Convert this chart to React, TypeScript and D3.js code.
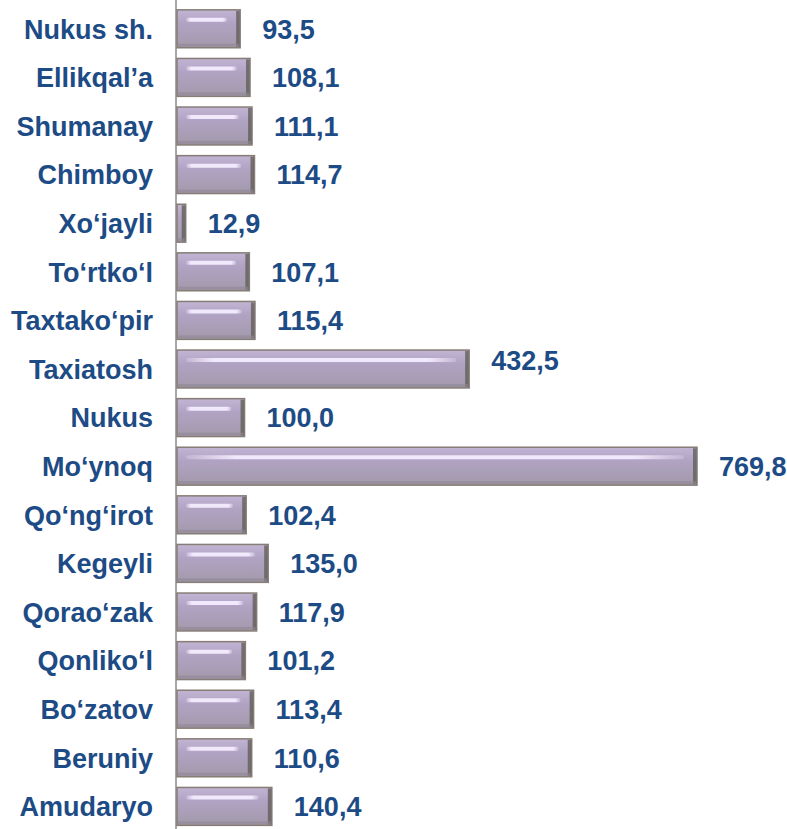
import React from 'react';
import * as d3 from 'd3';

const districts = [
  'Nukus sh.', 'Ellikqal’a', 'Shumanay', 'Chimboy', 'Xo‘jayli', 'To‘rtko‘l',
  'Taxtako‘pir', 'Taxiatosh', 'Nukus', 'Mo‘ynoq', 'Qo‘ng‘irot', 'Kegeyli',
  'Qorao‘zak', 'Qonliko‘l', 'Bo‘zatov', 'Beruniy', 'Amudaryo',
];
const values = [
  93.5, 108.1, 111.1, 114.7, 12.9, 107.1, 115.4, 432.5, 100.0, 769.8,
  102.4, 135.0, 117.9, 101.2, 113.4, 110.6, 140.4,
];
const raisedLabel = 'Taxiatosh';

const W = 787;
const H = 829;
const axisX = 177;
const textColor = '#1d4b85';

const fmt = (v: number) => v.toFixed(1).replace('.', ',');

const App = () => {
  const x = d3.scaleLinear().domain([0, 769.8]).range([axisX, 697]);
  const y = d3.scaleBand<string>()
    .domain(districts)
    .range([4.5, 4.5 + 48.6 * districts.length])
    .paddingInner(0.22)
    .paddingOuter(0.11);
  const bh = y.bandwidth();

  return (
    <svg width={W} height={H} style={{ position: 'absolute', left: 0, top: 0, background: '#fff' }}
      fontFamily="'Liberation Sans', Arial, sans-serif">
      <defs>
        <linearGradient id="barFill" x1="0" y1="0" x2="0" y2="1">
          <stop offset="0" stopColor="#c2b5d4" />
          <stop offset="0.35" stopColor="#b0a3c3" />
          <stop offset="1" stopColor="#a39aab" />
        </linearGradient>
        <linearGradient id="shine" x1="0" y1="0" x2="1" y2="0">
          <stop offset="0" stopColor="#f4ecff" stopOpacity="0.2" />
          <stop offset="0.1" stopColor="#f4ecff" stopOpacity="0.95" />
          <stop offset="0.9" stopColor="#f4ecff" stopOpacity="0.95" />
          <stop offset="1" stopColor="#f4ecff" stopOpacity="0.2" />
        </linearGradient>
      </defs>
      <line x1={axisX - 1} x2={axisX - 1} y1={0} y2={H} stroke="#8a8a8a" strokeWidth={1.5} />
      {districts.map((d, i) => {
        const v = values[i];
        const y0 = y(d) as number;
        const x1 = x(v);
        const w = x1 - axisX;
        const cy = y0 + bh / 2;
        return (
          <g key={d}>
            <rect x={axisX} y={y0} width={w} height={bh} fill="url(#barFill)" stroke="#857d76" strokeWidth={1.5} />
            <rect x={x1 - 4} y={y0 + 1} width={3.5} height={bh - 2} fill="#5e5954" opacity={0.75} />
            <rect x={axisX + 1} y={y0 + bh - 4} width={Math.max(w - 2, 0)} height={3} fill="#8f8793" opacity={0.6} />
            {w > 20 && (
              <rect x={axisX + 9} y={y0 + 8} width={w - 22} height={4} rx={2}
                fill="url(#shine)" />
            )}
            <text x={153} y={cy} dy="0.36em" textAnchor="end" fontSize={27} fontWeight="bold" fill={textColor}>
              {d}
            </text>
            <text x={x1 + 22} y={cy - (d === raisedLabel ? 9 : 0)} dy="0.36em" fontSize={27}
              fontWeight="bold" fill={textColor}>
              {fmt(v)}
            </text>
          </g>
        );
      })}
    </svg>
  );
};

export default App;
